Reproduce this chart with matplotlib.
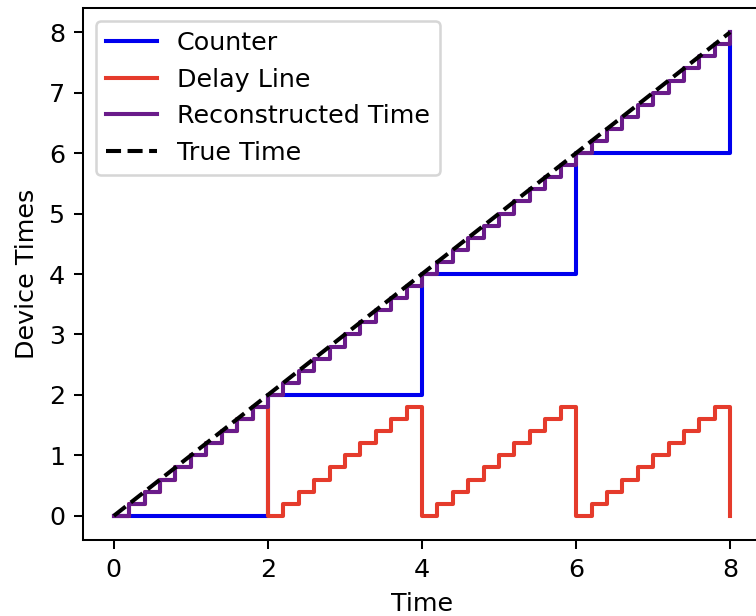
import matplotlib
matplotlib.use("Agg")
import matplotlib.pyplot as plt

# sample times (step edges)
time = [
    0.0, 0.2, 0.4, 0.6, 0.8, 1.0, 1.2, 1.4, 1.6, 1.8,
    2.0, 2.2, 2.4, 2.6, 2.8, 3.0, 3.2, 3.4, 3.6, 3.8,
    4.0, 4.2, 4.4, 4.6, 4.8, 5.0, 5.2, 5.4, 5.6, 5.8,
    6.0, 6.2, 6.4, 6.6, 6.8, 7.0, 7.2, 7.4, 7.6, 7.8,
    8.0,
]
counter = [
    0, 0, 0, 0, 0, 0, 0, 0, 0, 0,
    2, 2, 2, 2, 2, 2, 2, 2, 2, 2,
    4, 4, 4, 4, 4, 4, 4, 4, 4, 4,
    6, 6, 6, 6, 6, 6, 6, 6, 6, 6,
    8,
]
delay_line = [
    0.0, 0.2, 0.4, 0.6, 0.8, 1.0, 1.2, 1.4, 1.6, 1.8,
    0.0, 0.2, 0.4, 0.6, 0.8, 1.0, 1.2, 1.4, 1.6, 1.8,
    0.0, 0.2, 0.4, 0.6, 0.8, 1.0, 1.2, 1.4, 1.6, 1.8,
    0.0, 0.2, 0.4, 0.6, 0.8, 1.0, 1.2, 1.4, 1.6, 1.8,
    0.0,
]
reconstructed = [
    0.0, 0.2, 0.4, 0.6, 0.8, 1.0, 1.2, 1.4, 1.6, 1.8,
    2.0, 2.2, 2.4, 2.6, 2.8, 3.0, 3.2, 3.4, 3.6, 3.8,
    4.0, 4.2, 4.4, 4.6, 4.8, 5.0, 5.2, 5.4, 5.6, 5.8,
    6.0, 6.2, 6.4, 6.6, 6.8, 7.0, 7.2, 7.4, 7.6, 7.8,
    8.0,
]
true_t = [0, 8]
true_v = [0, 8]
x_ticks = [0, 2, 4, 6, 8]

DPI = 183
fig = plt.figure(figsize=(756 / DPI, 616 / DPI), dpi=DPI)
ax = fig.add_axes([83 / 756, 76 / 616, 678 / 756, 532 / 616])

ax.plot(time, counter, drawstyle="steps-post", color="#0000ee", lw=1.6,
        label="Counter")
ax.plot(time, delay_line, drawstyle="steps-post", color="#e53b2c", lw=1.6,
        label="Delay Line")
ax.plot(time, reconstructed, drawstyle="steps-post", color="#6a1b8a", lw=1.6,
        label="Reconstructed Time")
ax.plot(true_t, true_v, "k--", lw=1.6, label="True Time")

ax.set_xticks(x_ticks)
ax.set_xlabel("Time")
ax.set_ylabel("Device Times")
ax.legend(loc="upper left")

fig.savefig("out.png", dpi=DPI)
